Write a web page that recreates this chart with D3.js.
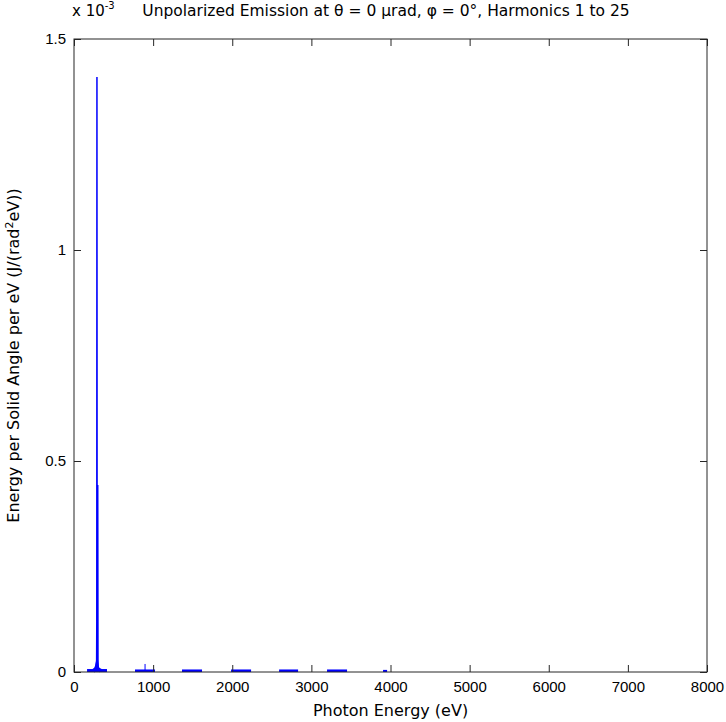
<!DOCTYPE html>
<html>
<head>
<meta charset="utf-8">
<script src="https://cdn.jsdelivr.net/npm/d3@7"></script>
<style>
  body { margin: 0; background: #fff; }
  text { font-family: "DejaVu Sans", sans-serif; fill: #000; }
</style>
</head>
<body>
<script>
// values in units of 1e-3 J/(rad^2 eV)
var xTicks = [0, 1000, 2000, 3000, 4000, 5000, 6000, 7000, 8000];
var yTicks = [0, 0.5, 1, 1.5];

// fundamental line, sampled around the peak
var peakEnergy = [250, 262, 270, 278, 282, 286, 288, 290, 292, 296, 300, 303, 306, 312, 320, 330];
var peakValue  = [0, 0.003, 0.006, 0.012, 0.020, 0.028, 0.12, 1.41, 0.25, 0.03, 0.443, 0.03, 0.012, 0.007, 0.004, 0];

// harmonic clusters sitting on the baseline
var bandStart = [165, 771, 1365, 1985, 2592, 3198, 3906];
var bandEnd   = [417, 1024, 1618, 2238, 2832, 3451, 3957];
var bandLevel = [0.007, 0.006, 0.006, 0.006, 0.006, 0.006, 0.005];

// shoulder of the fundamental
var shoulderEnergy = [235, 255, 265, 275, 282, 300, 310, 320, 350];
var shoulderValue  = [0.007, 0.010, 0.014, 0.022, 0.028, 0.028, 0.016, 0.010, 0.007];

// small spikes in the 3rd harmonic
var spikeEnergy = [898];
var spikeValue  = [0.019];

var width = 726, height = 722;
var margin = {top: 39, right: 19, bottom: 50, left: 74};

var x = d3.scaleLinear().domain([0, 8000]).range([margin.left, width - margin.right]);
var y = d3.scaleLinear().domain([0, 1.5]).range([height - margin.bottom, margin.top]);

var svg = d3.select("body").append("svg")
    .attr("width", width)
    .attr("height", height);

svg.append("rect")
    .attr("width", width).attr("height", height)
    .attr("fill", "#fff");

var blue = "#0000ff";

// bands
svg.selectAll("rect.band")
    .data(bandStart)
    .enter()
    .append("rect")
    .attr("class", "band")
    .attr("x", function(d) { return x(d); })
    .attr("width", function(d, i) { return x(bandEnd[i]) - x(d); })
    .attr("y", function(d, i) { return y(bandLevel[i]); })
    .attr("height", function(d, i) { return y(0) - y(bandLevel[i]); })
    .attr("fill", blue);

var area = d3.area()
    .x(function(d) { return x(d[0]); })
    .y0(y(0))
    .y1(function(d) { return y(d[1]); });

svg.append("path")
    .datum(d3.zip(shoulderEnergy, shoulderValue))
    .attr("d", area)
    .attr("fill", blue);

var line = d3.line()
    .x(function(d) { return x(d[0]); })
    .y(function(d) { return y(d[1]); });

svg.append("path")
    .datum(d3.zip(peakEnergy, peakValue))
    .attr("d", line)
    .attr("fill", "none")
    .attr("stroke", blue)
    .attr("stroke-width", 1.5);

svg.selectAll("line.spike")
    .data(spikeEnergy)
    .enter()
    .append("line")
    .attr("class", "spike")
    .attr("x1", function(d) { return x(d); })
    .attr("x2", function(d) { return x(d); })
    .attr("y1", y(0))
    .attr("y2", function(d, i) { return y(spikeValue[i]); })
    .attr("stroke", blue);

// axes, ticks pointing inward on all four sides
var fmtY = function(d) { return d3.format("~g")(d); };

var gx = svg.append("g")
    .attr("transform", "translate(0," + y(0) + ")")
    .call(d3.axisBottom(x).tickValues(xTicks).tickSize(-7).tickPadding(9).tickFormat(d3.format("d")));
var gxTop = svg.append("g")
    .attr("transform", "translate(0," + y(1.5) + ")")
    .call(d3.axisTop(x).tickValues(xTicks).tickSize(-7).tickFormat(""));
var gy = svg.append("g")
    .attr("transform", "translate(" + x(0) + ",0)")
    .call(d3.axisLeft(y).tickValues(yTicks).tickSize(-7).tickPadding(8).tickFormat(fmtY));
var gyRight = svg.append("g")
    .attr("transform", "translate(" + x(8000) + ",0)")
    .call(d3.axisRight(y).tickValues(yTicks).tickSize(-7).tickFormat(""));

[gx, gxTop, gy, gyRight].forEach(function(g) {
    g.select(".domain").remove();
    g.selectAll(".tick line").attr("stroke", "#262626");
    g.selectAll("text").attr("font-size", 15).attr("fill", "#000")
        .style("font-family", "'Liberation Sans', Arial, sans-serif");
});

svg.append("rect")
    .attr("x", x(0)).attr("y", y(1.5))
    .attr("width", x(8000) - x(0)).attr("height", y(0) - y(1.5))
    .attr("fill", "none")
    .attr("stroke", "#262626")
    .attr("stroke-width", 1);

// exponent label
var expo = svg.append("text")
    .attr("x", 72).attr("y", 16)
    .attr("font-size", 15);
expo.append("tspan").text("x 10");
expo.append("tspan").attr("dy", -7).attr("font-size", 10).text("-3");

// title
svg.append("text")
    .attr("x", 386)
    .attr("y", 16)
    .attr("text-anchor", "middle")
    .attr("font-size", 15.5)
    .text("Unpolarized Emission at \u03b8 = 0 \u00b5rad, \u03c6 = 0\u00b0, Harmonics 1 to 25");

// x label
svg.append("text")
    .attr("x", (x(0) + x(8000)) / 2)
    .attr("y", 716)
    .attr("text-anchor", "middle")
    .attr("font-size", 16)
    .text("Photon Energy (eV)");

// y label
var yl = svg.append("text")
    .attr("transform", "translate(19," + (y(0) + y(1.5)) / 2 + ") rotate(-90)")
    .attr("text-anchor", "middle")
    .attr("font-size", 16);
yl.append("tspan").text("Energy per Solid Angle per eV (J/(rad");
yl.append("tspan").attr("dy", -6).attr("font-size", 11).text("2");
yl.append("tspan").attr("dy", 6).text("eV))");
</script>
</body>
</html>
